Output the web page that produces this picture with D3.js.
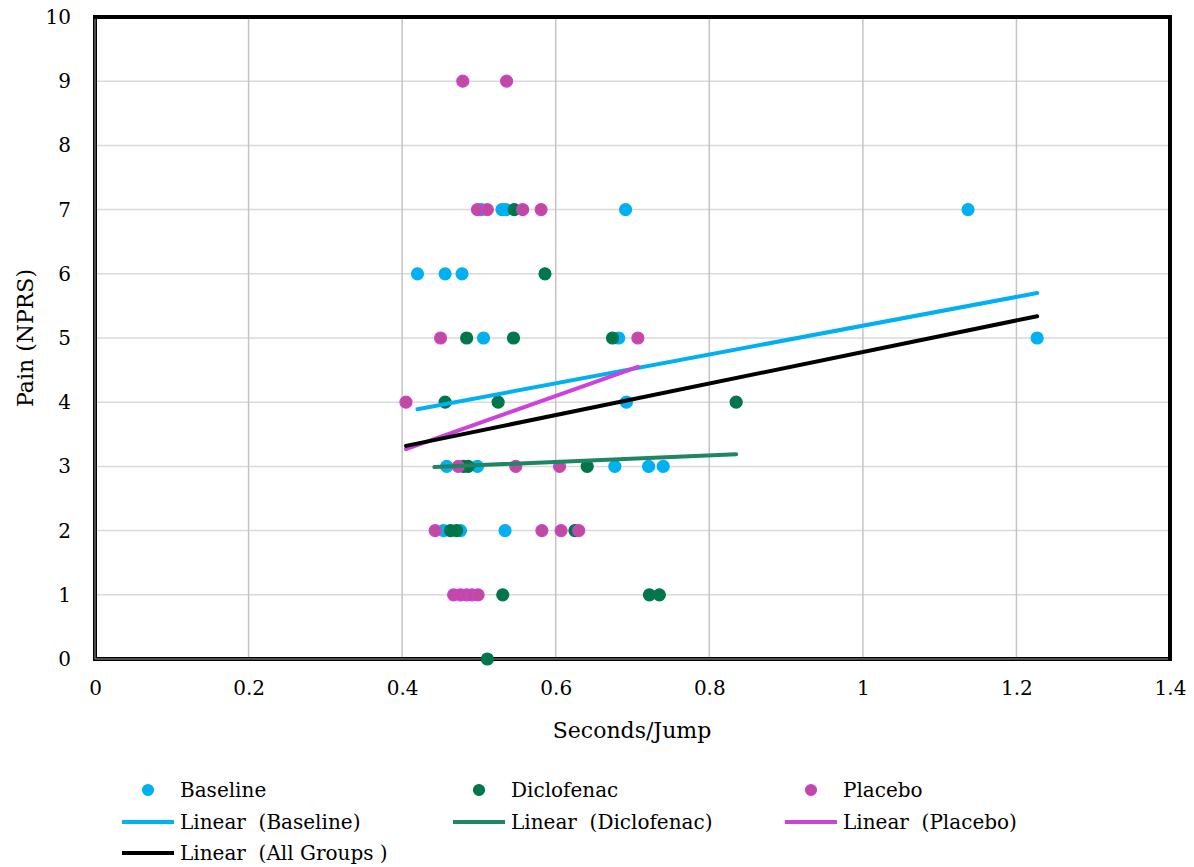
<!DOCTYPE html>
<html>
<head>
<meta charset="utf-8">
<script src="https://cdn.jsdelivr.net/npm/d3@7"></script>
<style>
  html, body { margin: 0; padding: 0; background: #fff; }
  svg { display: block; font-family: "DejaVu Serif", "Liberation Serif", serif; }
</style>
</head>
<body>
<svg id="chart" width="1194" height="867"></svg>
<script>
// Seconds per jump (x) and pain score (y) for each group
const baselineX = [0.503, 0.530, 0.535, 0.691, 1.137, 0.420, 0.456, 0.478, 0.506, 0.682, 1.227, 0.692, 0.458, 0.498, 0.677, 0.721, 0.740, 0.454, 0.476, 0.534];
const baselineY = [7, 7, 7, 7, 7, 6, 6, 6, 5, 5, 5, 4, 3, 3, 3, 3, 3, 2, 2, 2];

const diclofenacX = [0.546, 0.586, 0.484, 0.545, 0.674, 0.456, 0.525, 0.835, 0.480, 0.486, 0.641, 0.463, 0.471, 0.625, 0.531, 0.722, 0.735, 0.511];
const diclofenacY = [7, 6, 5, 5, 5, 4, 4, 4, 3, 3, 3, 2, 2, 2, 1, 1, 1, 0];

const placeboX = [0.479, 0.536, 0.498, 0.511, 0.557, 0.581, 0.450, 0.707, 0.405, 0.473, 0.548, 0.605, 0.443, 0.582, 0.607, 0.630, 0.467, 0.476, 0.484, 0.491, 0.499];
const placeboY = [9, 9, 7, 7, 7, 7, 5, 5, 4, 3, 3, 3, 2, 2, 2, 2, 1, 1, 1, 1, 1];

// Linear trend lines: start and end points
const trendNames = ["Linear  (Baseline)", "Linear  (Diclofenac)", "Linear  (Placebo)", "Linear  (All Groups )"];
const trendX0 = [0.420, 0.442, 0.405, 0.405];
const trendY0 = [3.89, 2.99, 3.27, 3.32];
const trendX1 = [1.227, 0.835, 0.707, 1.227];
const trendY1 = [5.70, 3.19, 4.55, 5.34];

const xTicks = [0, 0.2, 0.4, 0.6, 0.8, 1, 1.2, 1.4];
const yTicks = [0, 1, 2, 3, 4, 5, 6, 7, 8, 9, 10];

const seriesNames = ["Baseline", "Diclofenac", "Placebo"];
const markerFill = ["#00B0F0", "#00774A", "#BF4A9E"];
const markerStroke = ["#00B0F0", "#00774A", "#CC42DA"];
const trendColor = ["#00B0F0", "#1E8660", "#CC42DA", "#000000"];

const svg = d3.select("#chart");
const plotLeft = 95, plotTop = 17, plotRight = 1170, plotBottom = 659;

const x = d3.scaleLinear().domain([0, 1.4]).range([plotLeft, plotRight]);
const y = d3.scaleLinear().domain([0, 10]).range([plotBottom, plotTop]);

// Gridlines
const grid = svg.append("g");
grid.selectAll("line.h").data(yTicks.slice(1, -1)).join("line")
  .attr("class", "h")
  .attr("x1", plotLeft).attr("x2", plotRight)
  .attr("y1", d => y(d)).attr("y2", d => y(d))
  .attr("stroke", "#D9D9D9").attr("stroke-width", 1.5);
grid.selectAll("line.v").data(xTicks.slice(1, -1)).join("line")
  .attr("class", "v")
  .attr("y1", plotTop).attr("y2", plotBottom)
  .attr("x1", d => x(d)).attr("x2", d => x(d))
  .attr("stroke", "#C4C4C4").attr("stroke-width", 1.5);

// Axes (labels only)
const xAxis = svg.append("g").attr("transform", `translate(0,${plotBottom})`)
  .call(d3.axisBottom(x).tickValues(xTicks).tickFormat(d3.format("~g")).tickSize(0).tickPadding(22));
const yAxis = svg.append("g").attr("transform", `translate(${plotLeft},0)`)
  .call(d3.axisLeft(y).tickValues(yTicks).tickSize(0).tickPadding(24));
[xAxis, yAxis].forEach(a => {
  a.select(".domain").remove();
  a.selectAll("text").attr("font-family", "DejaVu Serif, serif").attr("font-size", 20).attr("fill", "#000");
});

// Plot frame
svg.append("rect").attr("x", plotLeft).attr("y", plotTop)
  .attr("width", plotRight - plotLeft).attr("height", plotBottom - plotTop)
  .attr("fill", "none").attr("stroke", "#000").attr("stroke-width", 4);
svg.append("line").attr("x1", plotLeft).attr("x2", plotLeft).attr("y1", plotTop + 2).attr("y2", plotBottom)
  .attr("stroke", "#9a9a9a").attr("stroke-width", 1);
svg.append("line").attr("x1", plotLeft).attr("x2", plotRight - 2).attr("y1", plotBottom).attr("y2", plotBottom)
  .attr("stroke", "#9a9a9a").attr("stroke-width", 1);

// Markers
const groups = [[baselineX, baselineY], [diclofenacX, diclofenacY], [placeboX, placeboY]];
groups.forEach(([xs, ys], i) => {
  svg.append("g").selectAll("circle").data(xs.map((v, k) => [v, ys[k]])).join("circle")
    .attr("cx", d => x(d[0])).attr("cy", d => y(d[1])).attr("r", 6)
    .attr("fill", markerFill[i]).attr("stroke", markerStroke[i]).attr("stroke-width", 1.2);
});

// Trend lines
const tg = svg.append("g");
trendNames.forEach((n, i) => {
  tg.append("line")
    .attr("x1", x(trendX0[i])).attr("y1", y(trendY0[i]))
    .attr("x2", x(trendX1[i])).attr("y2", y(trendY1[i]))
    .attr("stroke", trendColor[i]).attr("stroke-width", 4).attr("stroke-linecap", "round");
});

// Axis titles
svg.append("text").attr("x", 632).attr("y", 730).attr("text-anchor", "middle")
  .attr("dominant-baseline", "central").attr("font-size", 22).text("Seconds/Jump");
svg.append("text").attr("transform", "translate(25,338) rotate(-90)").attr("text-anchor", "middle")
  .attr("dominant-baseline", "central").attr("font-size", 22).text("Pain (NPRS)");

// Legend
const legend = svg.append("g").attr("font-size", 20);
const colX = [148, 479, 811];
seriesNames.forEach((n, i) => {
  legend.append("circle").attr("cx", colX[i]).attr("cy", 790).attr("r", 5.5)
    .attr("fill", markerFill[i]).attr("stroke", markerStroke[i]).attr("stroke-width", 1.2);
  legend.append("text").attr("x", colX[i] + 32).attr("y", 790)
    .attr("dominant-baseline", "central").text(n);
});
trendNames.forEach((n, i) => {
  const col = i < 3 ? i : 0;
  const ly = i < 3 ? 822 : 853;
  legend.append("line").attr("x1", colX[col] - 26).attr("x2", colX[col] + 26)
    .attr("y1", ly).attr("y2", ly).attr("stroke", trendColor[i]).attr("stroke-width", 4);
  legend.append("text").attr("x", colX[col] + 32).attr("y", ly)
    .attr("dominant-baseline", "central").attr("xml:space", "preserve").text(n);
});
</script>
</body>
</html>
